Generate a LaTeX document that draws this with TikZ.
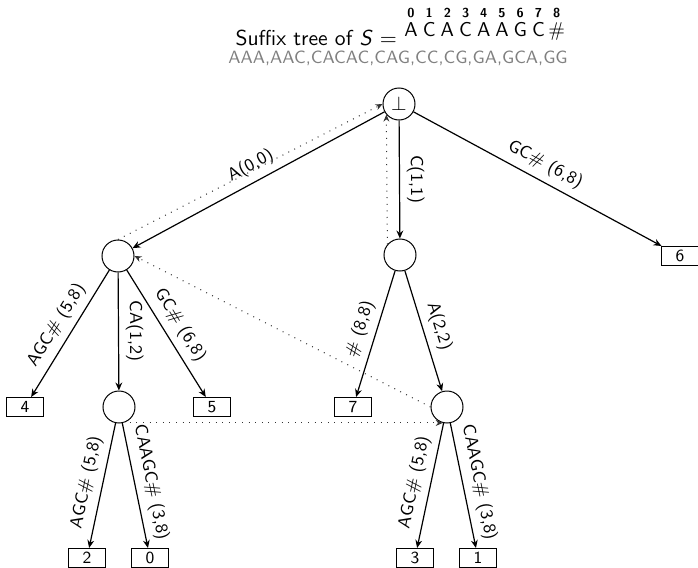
\documentclass[tikz,border=0pt]{standalone}
\usetikzlibrary{arrows.meta}
\begin{document}
\begin{tikzpicture}[x=0.5pt,y=-0.5pt,
  every node/.style={font=\sffamily},
  innernode/.style={circle,draw,line width=0.5pt,minimum size=16pt,inner sep=0pt},
  leafnode/.style={rectangle,draw,line width=0.5pt,minimum width=18.5pt,minimum height=9.5pt,
    inner sep=0pt,font=\sffamily\fontsize{8.5}{9}\selectfont},
  treeedge/.style={-{Stealth[length=4pt,width=3.4pt]},line width=0.6pt},
  elabel/.style={sloped,above,font=\sffamily\fontsize{8.8}{10}\selectfont},
  slink/.style={-{Stealth[length=3.5pt,width=3pt]},line width=0.5pt,
    dash pattern=on 0.5pt off 2.8pt,black!80},
  strchar/.style={anchor=base,font=\sffamily\fontsize{10}{11}\selectfont},
  stridx/.style={anchor=base,font=\sffamily\bfseries\fontsize{6.5}{7}\selectfont},
]
\useasboundingbox (0,0) rectangle (698,568);

% heading: the string with its positions
\node[anchor=base east,font=\sffamily\fontsize{10.8}{12}\selectfont] (title) at (404,45)
  {Suffix tree of \textit{S} $=$};
\foreach \c [count=\i from 0] in {A,C,A,C,A,A,G,C,$\#$} {
  \node[strchar] (s\i) at (411+18.2*\i,36) {\c};
  \node[stridx] (i\i) at (411+18.2*\i,17) {\i};
}
\node[anchor=base,text=gray,font=\sffamily\fontsize{8.9}{10}\selectfont] (alph) at (398,63)
  {AAA,AAC,CACAC,CAG,CC,CG,GA,GCA,GG};

% tree nodes
\node[innernode] (root) at (399,104) {$\bot$};
\node[innernode] (a)    at (118,256) {};
\node[innernode] (c)    at (400,255) {};
\node[leafnode]  (l6)   at (680,256) {6};
\node[leafnode]  (l4)   at (25,407)  {4};
\node[innernode] (aca)  at (119,407) {};
\node[leafnode]  (l5)   at (212,407) {5};
\node[leafnode]  (l7)   at (353,407) {7};
\node[innernode] (ca)   at (447,407) {};
\node[leafnode]  (l2)   at (87,558)  {2};
\node[leafnode]  (l0)   at (150,558) {0};
\node[leafnode]  (l3)   at (415,558) {3};
\node[leafnode]  (l1)   at (478,558) {1};

% tree edges
\draw[treeedge] (root) -- node[elabel] {A(0,0)} (a);
\draw[treeedge] (root) -- node[elabel] {C(1,1)} (c);
\draw[treeedge] (root) -- node[elabel] {GC$\#$ (6,8)} (l6);
\draw[treeedge] (a) -- node[elabel] {AGC$\#$ (5,8)} (l4);
\draw[treeedge] (a) -- node[elabel] {CA(1,2)} (aca);
\draw[treeedge] (a) -- node[elabel] {GC$\#$ (6,8)} (l5);
\draw[treeedge] (c) -- node[elabel] {$\#$ (8,8)} (l7);
\draw[treeedge] (c) -- node[elabel] {A(2,2)} (ca);
\draw[treeedge] (aca) -- node[elabel] {AGC$\#$ (5,8)} (l2);
\draw[treeedge] (aca) -- node[elabel] {CAAGC$\#$ (3,8)} (l0);
\draw[treeedge] (ca) -- node[elabel] {AGC$\#$ (5,8)} (l3);
\draw[treeedge] (ca) -- node[elabel] {CAAGC$\#$ (3,8)} (l1);

% suffix links
\draw[slink] (a.north) -- (root.west);
\draw[slink] (c.140) -- (root.220);
\draw[slink] (ca.west) -- (a.east);
\draw[slink] (aca.-75) -- (ca.-105);
\end{tikzpicture}
\end{document}
